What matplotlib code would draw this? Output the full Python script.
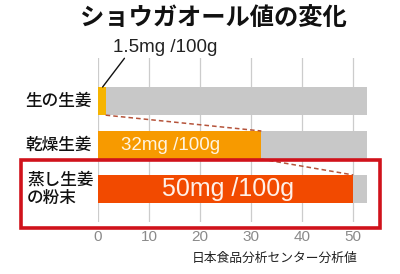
import matplotlib
matplotlib.use("Agg")
import matplotlib.pyplot as plt
from matplotlib.patches import Rectangle
from matplotlib import font_manager

plt.rcParams['font.family'] = ['Noto Sans CJK JP', 'DejaVu Sans']

categories = ["生の生姜", "乾燥生姜", "蒸し生姜\nの粉末"]
values = [1.5, 32, 50]
value_labels = ["1.5mg /100g", "32mg /100g", "50mg /100g"]
colors = ["#F6B400", "#F79A00", "#F24A00"]
xticks = [0, 10, 20, 30, 40, 50]
xmax = 52.7
title = "ショウガオール値の変化"
source = "日本食品分析センター分析値"

try:
    font_manager.findfont(font_manager.FontProperties(family='Liberation Sans Narrow'),
                          fallback_to_default=False)
    NARROW = True
except Exception:
    NARROW = False
num_family = ['Liberation Sans Narrow'] if NARROW else ['Liberation Sans']
scale = 1.2 if NARROW else 1.0

W, H = 400, 274
fig = plt.figure(figsize=(W / 100, H / 100), dpi=100)
fig.patch.set_facecolor("white")

def fx(px):
    return px / W

def fy(py):
    return 1 - py / H

ax = fig.add_axes([fx(98), fy(222), fx(367) - fx(98), fy(58) - fy(222)])
ypos = list(range(len(categories)))
bh = 0.64
ax.barh(ypos, [xmax] * len(ypos), height=bh, color="#C8C8C8", zorder=2)
ax.barh(ypos, values, height=bh, color=colors, zorder=3)
ax.set_xlim(0, xmax)
ax.set_ylim(2.75, -0.98)
for s in ax.spines.values():
    s.set_visible(False)
ax.set_xticks(xticks)
ax.set_xticklabels([str(t) for t in xticks], color="#8A8A8A", fontsize=11 * scale,
                   family=num_family)
ax.tick_params(axis='x', length=0, pad=6)
ax.set_yticks([])
ax.grid(axis='x', color="#CCCCCC", lw=0.9, zorder=1)
ax.set_axisbelow(True)

# dashed connector lines
for i in range(len(values) - 1):
    ax.plot([values[i], values[i + 1]], [ypos[i] + bh / 2, ypos[i + 1] - bh / 2],
            ls=(0, (3, 2)), color="#B5533A", lw=1.1, zorder=4)

# value labels
ax.annotate(value_labels[0], xy=(values[0] * 0.6, ypos[0] - bh / 2),
            xytext=(fx(113), fy(47)), textcoords='figure fraction',
            fontsize=13.5 * scale, color="#222222", va='center', ha='left',
            family=num_family,
            arrowprops=dict(arrowstyle='-', color='#111111', lw=1.0,
                            shrinkA=0, shrinkB=0,
                            relpos=(0.13, 0.0)), zorder=5)
ax.text(4.6, ypos[1], value_labels[1], fontsize=13.5 * scale, color="#FFF4E0",
        va='center', ha='left', family=num_family, zorder=5)
ax.text(12.5, ypos[2], value_labels[2], fontsize=18 * scale, color="#FFF0E8",
        va='center', ha='left', family=num_family, zorder=5)

# category labels
fig.text(fx(92), fy(101), categories[0], ha='right', va='center', fontsize=12,
         color="#111111", fontweight='medium')
fig.text(fx(92), fy(145), categories[1], ha='right', va='center', fontsize=12,
         color="#111111", fontweight='medium')
fig.text(fx(27), fy(189), categories[2], ha='left', va='center', fontsize=12,
         color="#111111", linespacing=1.0, fontweight='medium')

# red box
fig.patches.append(Rectangle((fx(21), fy(228)), fx(380) - fx(21), fy(160) - fy(228),
                             transform=fig.transFigure, fill=False,
                             edgecolor="#D0121B", lw=2.6, zorder=10))

fig.text(fx(213), fy(18), title, ha='center', va='center', fontsize=17.5,
         fontweight='bold', color="#111111")
fig.text(fx(275), fy(258), source, ha='center', va='center', fontsize=9.2, color="#222222")

fig.savefig("out.png", dpi=100, facecolor="white")
